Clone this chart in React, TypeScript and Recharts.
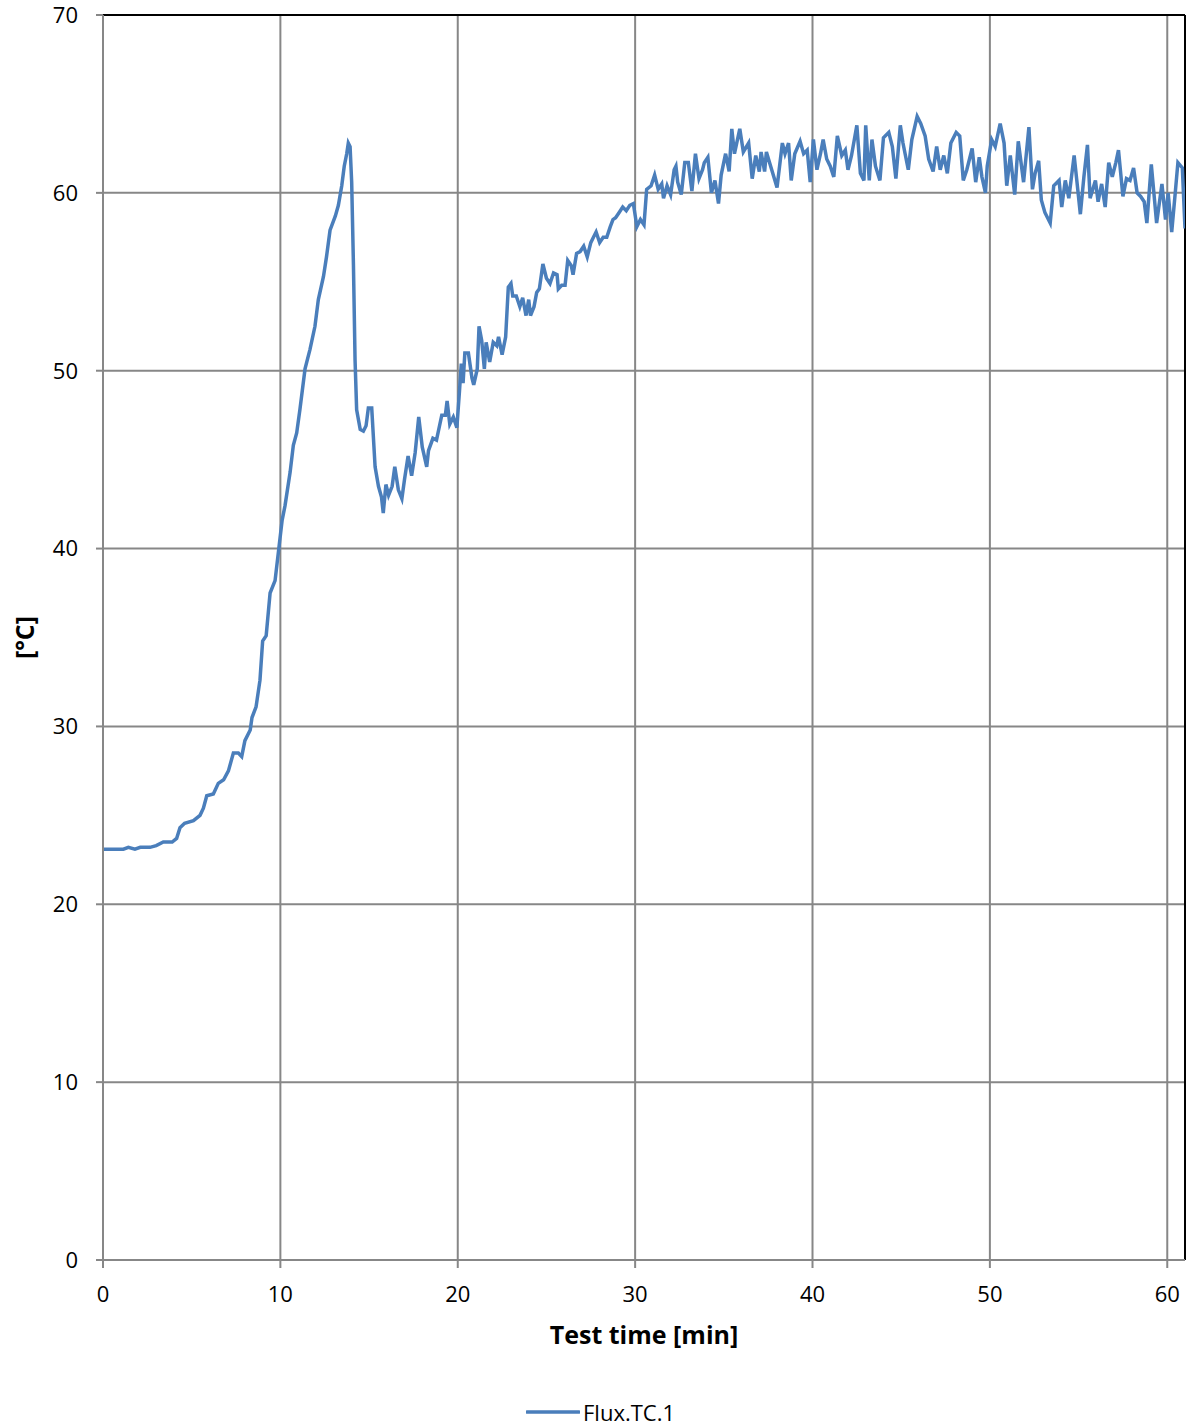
import React from "react";
import {
  LineChart,
  Line,
  XAxis,
  YAxis,
  CartesianGrid,
  ReferenceLine,
  Legend,
} from "recharts";

// test time [min]
const times = [
  0, 0.5, 1.15, 1.43, 1.8, 2.1, 2.65, 3.0, 3.4, 3.9, 4.15, 4.34, 4.6, 5.1, 5.47, 5.66, 5.85, 6.22, 6.5, 6.8,
  7.07, 7.35, 7.63, 7.82, 8.0, 8.3, 8.4, 8.63, 8.85, 9.0, 9.2, 9.42, 9.7, 9.9, 10.1, 10.26, 10.55, 10.73, 10.92, 11.1,
  11.39, 11.67, 11.95, 12.14, 12.43, 12.6, 12.8, 13.1, 13.27, 13.46, 13.6, 13.74, 13.83, 13.93, 14.02, 14.12, 14.21, 14.3, 14.5, 14.68,
  14.83, 14.96, 15.15, 15.34, 15.53, 15.7, 15.8, 15.95, 16.1, 16.3, 16.45, 16.65, 16.85, 17.0, 17.2, 17.4, 17.6, 17.8, 18.0, 18.25,
  18.35, 18.6, 18.8, 19.1, 19.3, 19.4, 19.55, 19.75, 19.95, 20.1, 20.2, 20.3, 20.4, 20.6, 20.8, 20.9, 21.1, 21.2, 21.35, 21.5,
  21.6, 21.8, 22.0, 22.2, 22.3, 22.5, 22.7, 22.85, 23.0, 23.1, 23.3, 23.5, 23.66, 23.85, 24.0, 24.1, 24.3, 24.45, 24.6, 24.8,
  25.0, 25.2, 25.4, 25.6, 25.67, 25.86, 26.05, 26.2, 26.4, 26.5, 26.7, 26.9, 27.1, 27.3, 27.5, 27.65, 27.8, 28.0, 28.2, 28.4,
  28.6, 28.75, 28.9, 29.1, 29.3, 29.5, 29.7, 29.9, 30.1, 30.3, 30.5, 30.65, 30.9, 31.1, 31.3, 31.5, 31.6, 31.8, 32.0, 32.2,
  32.3, 32.4, 32.6, 32.8, 33.0, 33.2, 33.4, 33.6, 33.8, 33.9, 34.1, 34.3, 34.5, 34.7, 34.85, 35.1, 35.3, 35.45, 35.6, 35.9,
  36.1, 36.4, 36.6, 36.8, 37.0, 37.1, 37.3, 37.4, 37.7, 38.0, 38.3, 38.45, 38.65, 38.8, 39.0, 39.3, 39.5, 39.7, 39.87, 40.05,
  40.25, 40.45, 40.6, 40.8, 41.0, 41.2, 41.4, 41.65, 41.85, 42.0, 42.2, 42.5, 42.7, 42.9, 43.0, 43.2, 43.35, 43.55, 43.8, 44.0,
  44.3, 44.5, 44.7, 44.95, 45.1, 45.4, 45.6, 45.9, 46.1, 46.35, 46.55, 46.8, 47.0, 47.2, 47.4, 47.6, 47.8, 48.1, 48.3, 48.5,
  48.7, 49.0, 49.2, 49.4, 49.55, 49.75, 49.85, 50.1, 50.3, 50.58, 50.8, 50.95, 51.15, 51.4, 51.6, 51.9, 52.2, 52.4, 52.55, 52.75,
  52.9, 53.1, 53.4, 53.6, 53.9, 54.05, 54.25, 54.45, 54.6, 54.75, 54.9, 55.1, 55.3, 55.5, 55.65, 55.95, 56.1, 56.3, 56.5, 56.7,
  56.9, 57.1, 57.25, 57.5, 57.7, 57.9, 58.1, 58.3, 58.5, 58.7, 58.85, 59.1, 59.4, 59.7, 59.9, 60.05, 60.25, 60.45, 60.6, 60.85,
  61.0,
];

// Flux.TC.1 [°C]
const fluxTC1 = [
  23.1, 23.1, 23.1, 23.2, 23.1, 23.2, 23.2, 23.3, 23.5, 23.5, 23.7, 24.3, 24.55, 24.7, 25.0, 25.4, 26.1, 26.2, 26.8, 27.0,
  27.5, 28.5, 28.5, 28.3, 29.2, 29.8, 30.5, 31.1, 32.6, 34.8, 35.1, 37.5, 38.2, 39.9, 41.6, 42.4, 44.3, 45.8, 46.5, 47.8,
  50.1, 51.2, 52.5, 54.0, 55.3, 56.4, 57.9, 58.7, 59.3, 60.4, 61.5, 62.2, 62.8, 62.6, 60.6, 55.9, 50.6, 47.8, 46.7, 46.6,
  46.9, 47.9, 47.9, 44.6, 43.5, 42.9, 42.0, 43.6, 43.0, 43.5, 44.6, 43.3, 42.8, 43.9, 45.2, 44.1, 45.4, 47.4, 45.7, 44.6,
  45.5, 46.2, 46.1, 47.5, 47.5, 48.3, 47.0, 47.4, 46.8, 48.9, 50.4, 49.3, 51.0, 51.0, 49.6, 49.2, 50.1, 52.5, 51.7, 50.1,
  51.6, 50.5, 51.6, 51.4, 51.9, 50.9, 51.9, 54.7, 54.9, 54.2, 54.2, 53.6, 54.1, 53.1, 54.0, 53.1, 53.6, 54.4, 54.6, 56.0,
  55.2, 54.9, 55.5, 55.4, 54.6, 54.8, 54.8, 56.2, 55.9, 55.4, 56.6, 56.7, 57.0, 56.4, 57.2, 57.5, 57.8, 57.2, 57.5, 57.5,
  58.1, 58.5, 58.6, 58.9, 59.2, 59.0, 59.3, 59.4, 58.1, 58.5, 58.2, 60.2, 60.4, 61.0, 60.2, 60.5, 59.7, 60.4, 59.9, 61.3,
  61.5, 60.6, 59.9, 61.7, 61.7, 60.1, 62.2, 60.8, 61.3, 61.7, 62.0, 60.0, 60.7, 59.4, 61.0, 62.2, 61.2, 63.6, 62.2, 63.6,
  62.3, 62.8, 60.8, 62.1, 61.2, 62.3, 61.2, 62.3, 61.3, 60.3, 62.8, 62.2, 62.8, 60.7, 62.2, 62.9, 62.2, 62.4, 60.6, 63.0,
  61.3, 62.2, 63.0, 61.9, 61.5, 60.9, 63.2, 62.1, 62.4, 61.3, 62.1, 63.8, 61.1, 60.7, 63.8, 60.7, 63.0, 61.5, 60.7, 63.1,
  63.4, 62.6, 60.8, 63.8, 62.8, 61.3, 63.0, 64.3, 63.9, 63.2, 61.9, 61.2, 62.6, 61.3, 62.1, 61.1, 62.8, 63.4, 63.2, 60.7,
  61.3, 62.5, 60.6, 62.0, 60.9, 60.0, 61.5, 63.0, 62.6, 63.9, 62.8, 60.4, 62.1, 59.9, 62.9, 60.6, 63.7, 60.2, 61.1, 61.8,
  59.6, 58.9, 58.3, 60.4, 60.7, 59.2, 60.7, 59.7, 60.9, 62.1, 60.7, 58.8, 60.9, 62.7, 59.7, 60.7, 59.5, 60.5, 59.2, 61.7,
  60.9, 61.7, 62.4, 59.8, 60.8, 60.7, 61.4, 60.0, 59.8, 59.5, 58.3, 61.6, 58.3, 60.5, 58.5, 60.0, 57.8, 60.0, 61.7, 61.4,
  58.0,
];

const xTicks = [0, 10, 20, 30, 40, 50, 60];
const yTicks = [0, 10, 20, 30, 40, 50, 60, 70];

const data = times.map((t, i) => ({ t, v: fluxTC1[i] }));

const FONT = "'Open Sans', sans-serif";
const GRID = "#878787";
const BLUE = "#4a7ebb";

const YLabel = (props: any) => {
  const vb = props.viewBox;
  const x = vb.x + 27;
  const y = vb.y + vb.height / 2;
  return (
    <text
      x={x}
      y={y}
      transform={`rotate(-90 ${x} ${y})`}
      textAnchor="middle"
      dominantBaseline="middle"
      fontFamily={FONT}
      fontWeight="bold"
      fontSize={25}
      fill="#000"
    >
      [°C]
    </text>
  );
};

const XLabel = (props: any) => {
  const vb = props.viewBox;
  return (
    <text
      x={vb.x + vb.width / 2}
      y={vb.y + 77}
      textAnchor="middle"
      dominantBaseline="middle"
      fontFamily={FONT}
      fontWeight="bold"
      fontSize={25}
      fill="#000"
    >
      Test time [min]
    </text>
  );
};

const LegendContent = () => (
  <div style={{ display: "flex", alignItems: "center", fontFamily: FONT, fontSize: 22, color: "#000" }}>
    <svg width={54} height={10} style={{ marginRight: 3 }}>
      <line x1={1} y1={5} x2={53} y2={5} stroke={BLUE} strokeWidth={3.5} strokeLinecap="round" />
    </svg>
    <span>Flux.TC.1</span>
  </div>
);

export default function App() {
  return (
    <div style={{ position: "absolute", left: 0, top: 0, background: "#fff" }}>
      <LineChart
        width={1189}
        height={1426}
        data={data}
        margin={{ top: 15, right: 4, bottom: 0, left: 0 }}
      >
        <CartesianGrid stroke={GRID} strokeWidth={2} />
        <XAxis
          dataKey="t"
          type="number"
          domain={[0, 61]}
          ticks={xTicks}
          allowDataOverflow
          height={166}
          stroke={GRID}
          strokeWidth={2}
          tickSize={8}
          tickMargin={18}
          tick={{ fill: "#000", fontFamily: FONT, fontSize: 22 }}
          label={<XLabel />}
        />
        <YAxis
          type="number"
          domain={[0, 70]}
          ticks={yTicks}
          width={103}
          stroke={GRID}
          strokeWidth={2}
          tickSize={7}
          tickMargin={18}
          tick={{ fill: "#000", fontFamily: FONT, fontSize: 22 }}
          label={<YLabel />}
        />
        <ReferenceLine y={70} stroke="#000" strokeWidth={2} />
        <ReferenceLine x={61} stroke="#000" strokeWidth={2} />
        <Line
          type="linear"
          dataKey="v"
          name="Flux.TC.1"
          stroke={BLUE}
          strokeWidth={3.5}
          dot={false}
          isAnimationActive={false}
        />
        <Legend
          verticalAlign="middle"
          align="center"
          content={<LegendContent />}
          wrapperStyle={{ top: 1397, left: 526, width: 220 }}
        />
      </LineChart>
    </div>
  );
}
